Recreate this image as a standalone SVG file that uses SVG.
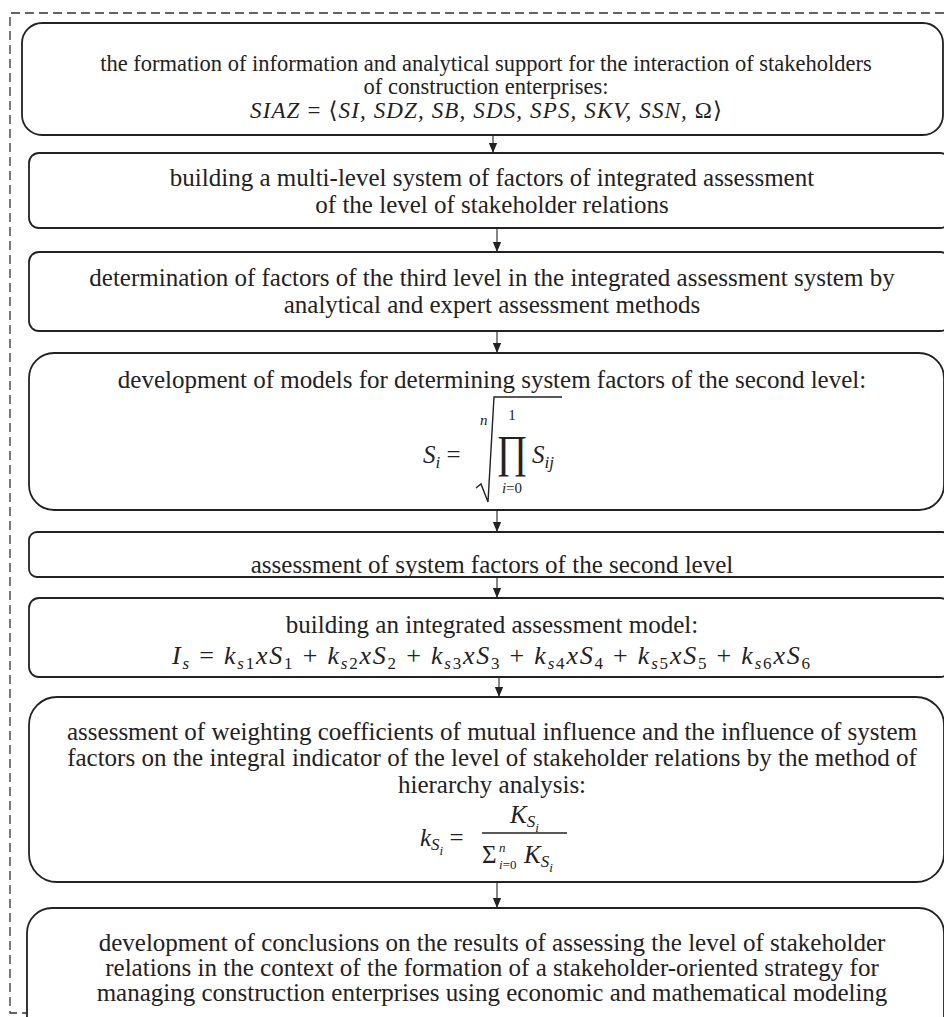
<svg xmlns="http://www.w3.org/2000/svg" width="944" height="1017" viewBox="0 0 944 1017">
<style>
.box{fill:#fff;stroke:#222;stroke-width:1.8}
.t{font-family:"Liberation Serif","Times New Roman",serif;font-size:25px;fill:#222;text-anchor:middle}
.t1{font-size:22.5px}
.m{font-family:"Liberation Serif","DejaVu Serif",serif;font-style:italic;font-size:24px;fill:#222}
.up{font-style:normal}
.sb{font-size:17px}
.ss{font-size:13px}
.conn line{stroke:#222;stroke-width:1.1}
.dash{fill:none;stroke:#333;stroke-width:1.3;stroke-dasharray:9 5}
</style>
<defs>
<marker id="ah" markerUnits="userSpaceOnUse" markerWidth="10" markerHeight="12" refX="12" refY="5" orient="auto" viewBox="0 0 12 10">
<path d="M0,0 L12,5 L0,10 z" fill="#222"/>
</marker>
</defs>
<path class="dash" d="M944,13 H10 V1013 H27"/>

<g id="n1">
<rect class="box" x="22" y="23" width="921" height="112" rx="20"/>
<text class="t t1" x="486" y="71">the formation of information and analytical support for the interaction of stakeholders</text>
<text class="t t1" x="486" y="94">of construction enterprises:</text>
<text class="m" x="486" y="118" text-anchor="middle" textLength="472" lengthAdjust="spacing" style="font-size:23px">SIAZ <tspan class="up">=</tspan> <tspan class="up">⟨</tspan>SI, SDZ, SB, SDS, SPS, SKV, SSN, <tspan class="up">Ω⟩</tspan></text>
</g>

<g id="n2">
<rect class="box" x="29" y="153" width="921" height="75" rx="10"/>
<text class="t" x="492" y="186">building a multi-level system of factors of integrated assessment</text>
<text class="t" x="492" y="213">of the level of stakeholder relations</text>
</g>

<g id="n3">
<rect class="box" x="29" y="252" width="921" height="79" rx="10"/>
<text class="t" x="492" y="286">determination of factors of the third level in the integrated assessment system by</text>
<text class="t" x="492" y="313">analytical and expert assessment methods</text>
</g>

<g id="n4">
<rect class="box" x="29" y="353" width="915" height="157" rx="25"/>
<text class="t" x="492" y="388">development of models for determining system factors of the second level:</text>
<text class="m" x="423" y="463" style="font-size:25px">S<tspan class="sb" dy="5">i</tspan><tspan class="up" dy="-5"> =</tspan></text>
<text class="m" x="480" y="425" style="font-size:15px">n</text>
<path d="M476,488 L481,484 L488,502 L494,397 L562,397" fill="none" stroke="#222" stroke-width="1.4"/>
<text class="m up" x="512" y="420" text-anchor="middle" style="font-size:15px">1</text>
<text transform="translate(512,467) scale(1,1.2)" text-anchor="middle" style="font-family:'Liberation Serif','DejaVu Serif',serif;font-size:38px;fill:#222">∏</text>
<text class="m" x="512" y="493" text-anchor="middle" style="font-size:15px">i<tspan class="up">=0</tspan></text>
<text class="m" x="532" y="463" style="font-size:25px">S<tspan class="sb" dy="5">ij</tspan></text>
</g>

<g id="n5">
<rect class="box" x="29" y="532" width="921" height="45" rx="8"/>
<text class="t" x="492" y="573">assessment of system factors of the second level</text>
</g>

<g id="n6">
<rect class="box" x="29" y="598" width="921" height="79" rx="10"/>
<text class="t" x="492" y="633">building an integrated assessment model:</text>
<text class="m" x="491" y="664" text-anchor="middle" textLength="638" lengthAdjust="spacing" style="font-size:26px">I<tspan class="sb" dy="5">s</tspan><tspan class="up" dy="-5"> = </tspan>k<tspan class="sb" dy="5">s<tspan class="up">1</tspan></tspan><tspan dy="-5">xS</tspan><tspan class="sb up" dy="5">1</tspan><tspan class="up" dy="-5"> + </tspan>k<tspan class="sb" dy="5">s<tspan class="up">2</tspan></tspan><tspan dy="-5">xS</tspan><tspan class="sb up" dy="5">2</tspan><tspan class="up" dy="-5"> + </tspan>k<tspan class="sb" dy="5">s<tspan class="up">3</tspan></tspan><tspan dy="-5">xS</tspan><tspan class="sb up" dy="5">3</tspan><tspan class="up" dy="-5"> + </tspan>k<tspan class="sb" dy="5">s<tspan class="up">4</tspan></tspan><tspan dy="-5">xS</tspan><tspan class="sb up" dy="5">4</tspan><tspan class="up" dy="-5"> + </tspan>k<tspan class="sb" dy="5">s<tspan class="up">5</tspan></tspan><tspan dy="-5">xS</tspan><tspan class="sb up" dy="5">5</tspan><tspan class="up" dy="-5"> + </tspan>k<tspan class="sb" dy="5">s<tspan class="up">6</tspan></tspan><tspan dy="-5">xS</tspan><tspan class="sb up" dy="5">6</tspan></text>
</g>

<g id="n7">
<rect class="box" x="29" y="697" width="915" height="185" rx="28"/>
<text class="t" x="492" y="740">assessment of weighting coefficients of mutual influence and the influence of system</text>
<text class="t" x="492" y="766">factors on the integral indicator of the level of stakeholder relations by the method of</text>
<text class="t" x="492" y="793">hierarchy analysis:</text>
<text class="m" x="420" y="846" style="font-size:25px">k<tspan class="sb" dy="4">S</tspan><tspan class="ss" dy="5">i</tspan><tspan class="up" dy="-9"> =</tspan></text>
<text class="m" x="510" y="823" style="font-size:25px">K<tspan class="sb" dy="4">S</tspan><tspan class="ss" dy="5">i</tspan></text>
<line x1="482" y1="833" x2="567" y2="833" stroke="#222" stroke-width="1.4"/>
<text class="m up" x="482" y="863" style="font-size:25px">Σ</text>
<text class="m ss" x="499" y="852">n</text>
<text class="m ss" x="499" y="869">i<tspan class="up">=0</tspan></text>
<text class="m" x="524" y="863" style="font-size:25px">K<tspan class="sb" dy="4">S</tspan><tspan class="ss" dy="5">i</tspan></text>
</g>

<g id="n8">
<rect class="box" x="27" y="908" width="917" height="140" rx="25"/>
<text class="t" x="492" y="951">development of conclusions on the results of assessing the level of stakeholder</text>
<text class="t" x="492" y="976">relations in the context of the formation of a stakeholder-oriented strategy for</text>
<text class="t" x="492" y="1001">managing construction enterprises using economic and mathematical modeling</text>
</g>

<g id="connectors" class="conn">
<line x1="493" y1="135" x2="493" y2="153" marker-end="url(#ah)"/>
<line x1="497" y1="228" x2="497" y2="252" marker-end="url(#ah)"/>
<line x1="497" y1="331" x2="497" y2="353" marker-end="url(#ah)"/>
<line x1="497" y1="510" x2="497" y2="532" marker-end="url(#ah)"/>
<line x1="497" y1="577" x2="497" y2="598" marker-end="url(#ah)"/>
<line x1="499" y1="677" x2="499" y2="697" marker-end="url(#ah)"/>
<line x1="497" y1="882" x2="497" y2="908" marker-end="url(#ah)"/>
</g>
</svg>
